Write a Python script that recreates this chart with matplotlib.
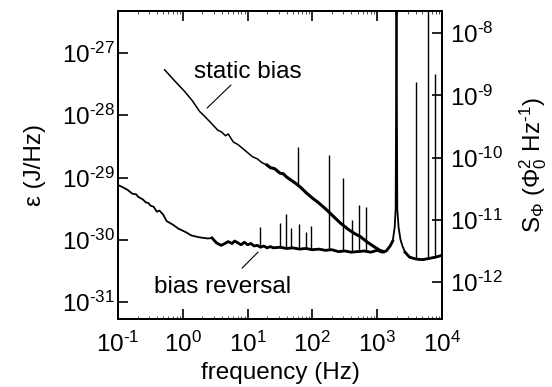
import numpy as np
import matplotlib
matplotlib.use("Agg")
import matplotlib.pyplot as plt
from matplotlib.ticker import LogLocator, NullLocator, FuncFormatter

plt.rcParams['font.family'] = ['Liberation Sans', 'DejaVu Sans']
plt.rcParams['mathtext.fontset'] = 'custom'
plt.rcParams['mathtext.rm'] = 'Liberation Sans'
plt.rcParams['mathtext.it'] = 'Liberation Sans:italic'
plt.rcParams['mathtext.bf'] = 'Liberation Sans:bold'
plt.rcParams['axes.unicode_minus'] = False

FS = 17.5

# curves, as log10(frequency / Hz) and log10(eps / (J/Hz))
static_logf = [-0.28, -0.15, 0.03, 0.15, 0.26, 0.34, 0.45, 0.54, 0.60, 0.66, 0.70,
               0.78, 0.85, 0.92, 1.00, 1.08, 1.15, 1.22, 1.30, 1.35, 1.42, 1.50,
               1.55, 1.60, 1.68, 1.75, 1.82, 1.91, 2.00, 2.10, 2.22, 2.30, 2.43,
               2.55, 2.65, 2.74, 2.85, 2.95, 3.04, 3.10]
static_logeps = [-27.27, -27.42, -27.62, -27.77, -27.94, -28.02, -28.14, -28.24, -28.27,
                 -28.33, -28.30, -28.43, -28.47, -28.53, -28.60, -28.67, -28.70, -28.76,
                 -28.80, -28.84, -28.86, -28.93, -28.94, -28.99, -29.05, -29.10, -29.16,
                 -29.25, -29.33, -29.41, -29.52, -29.60, -29.73, -29.83, -29.90, -29.95,
                 -30.04, -30.11, -30.17, -30.19]

rev_logf = [-1.00, -0.92, -0.85, -0.78, -0.72, -0.69, -0.62, -0.57, -0.53, -0.50,
            -0.45, -0.40, -0.36, -0.30, -0.25, -0.15, -0.07, 0.05, 0.13, 0.25,
            0.39, 0.45, 0.52, 0.59, 0.65, 0.70, 0.76, 0.80, 0.85, 0.90, 0.95,
            1.00, 1.05, 1.10, 1.15, 1.20, 1.25, 1.30, 1.35, 1.40, 1.50, 1.60,
            1.70, 1.80, 1.90, 2.00, 2.10, 2.20, 2.30, 2.40, 2.50, 2.60, 2.70,
            2.80, 2.90, 3.00, 3.08, 3.14, 3.20, 3.24, 3.27, 3.285, 3.298, 3.31,
            3.33, 3.36, 3.39, 3.43, 3.50, 3.60, 3.70, 3.80, 3.90, 4.00]
rev_logeps = [-29.12, -29.16, -29.20, -29.26, -29.27, -29.31, -29.35, -29.40, -29.41,
              -29.45, -29.47, -29.55, -29.53, -29.60, -29.70, -29.76, -29.82, -29.88,
              -29.93, -29.96, -29.98, -29.97, -30.05, -30.09, -30.06, -30.03, -30.06,
              -30.02, -30.05, -30.08, -30.04, -30.08, -30.06, -30.10, -30.09, -30.12,
              -30.10, -30.13, -30.11, -30.13, -30.12, -30.14, -30.13, -30.15, -30.14,
              -30.16, -30.15, -30.17, -30.16, -30.19, -30.18, -30.20, -30.19, -30.18,
              -30.20, -30.17, -30.20, -30.18, -30.10, -30.02, -29.80, -29.50, -26.20,
              -29.50, -29.80, -30.00, -30.10, -30.20, -30.28, -30.31, -30.32, -30.30,
              -30.28, -30.25]

# narrow pickup lines: log10 f and log10 of the line top
rev_spike_logf = [1.191, 1.50, 1.588, 1.677, 1.793, 1.894, 1.974, 2.256, 2.468,
                  2.611, 2.724, 2.82, 3.594, 3.779, 3.892]
rev_spike_top = [-29.79, -29.73, -29.58, -29.81, -29.75, -29.88, -29.78, -28.64,
                 -29.01, -29.69, -29.44, -29.48, -27.46, -26.20, -27.34]
static_spike_logf = [1.782]
static_spike_top = [-28.51]


def pow10(v, pos):
    e = int(round(np.log10(v)))
    if e < 0:
        return r'$10^{\text{-}%d}$' % (-e)
    return r'$10^{%d}$' % e


fig = plt.figure(figsize=(5.52, 3.87), dpi=100)
ax = fig.add_axes([0.2138, 0.1757, 0.5869, 0.7959])

sf = np.array(static_logf)
se = np.array(static_logeps)
rf = np.array(rev_logf)
re_ = np.array(rev_logeps)

ax.plot(10**sf, 10**se, color='black', lw=1.1)
ax.plot(10**rf, 10**re_, color='black', lw=1.3)
# the noisy parts of both traces look thicker
m = sf >= 1.3
ax.plot(10**sf[m], 10**se[m], color='black', lw=2.2)
m = (rf >= 0.4) & (rf <= 3.24)
ax.plot(10**rf[m], 10**re_[m], color='black', lw=2.0)
m = rf >= 3.43
ax.plot(10**rf[m], 10**re_[m], color='black', lw=2.0)

base = np.interp(rev_spike_logf, rev_logf, rev_logeps)
ax.vlines(10**np.array(rev_spike_logf), 10**base, 10**np.array(rev_spike_top),
          color='black', lw=1.0)
base = np.interp(static_spike_logf, static_logf, static_logeps)
ax.vlines(10**np.array(static_spike_logf), 10**base, 10**np.array(static_spike_top),
          color='black', lw=1.0)

ax.set_xscale('log')
ax.set_yscale('log')
ax.set_xlim(1e-1, 1e4)
ax.set_ylim(10**-31.273, 10**-26.325)
ax.xaxis.set_major_locator(LogLocator(base=10, numticks=10))
ax.xaxis.set_minor_locator(LogLocator(base=10, subs=np.arange(2, 10), numticks=10))
ax.yaxis.set_major_locator(LogLocator(base=10, numticks=10))
ax.yaxis.set_minor_locator(NullLocator())
ax.xaxis.set_major_formatter(FuncFormatter(pow10))
ax.yaxis.set_major_formatter(FuncFormatter(pow10))

ax.tick_params(axis='both', which='major', direction='in', length=7, width=1.2,
               labelsize=FS)
ax.tick_params(axis='x', which='major', pad=9.5)
ax.tick_params(axis='y', which='major', pad=2)
ax.tick_params(axis='x', which='both', top=True, bottom=True)
ax.tick_params(axis='x', which='minor', direction='in', length=2, width=0.5)
ax.tick_params(axis='y', which='both', left=True, right=False)
for s in ax.spines.values():
    s.set_linewidth(1.4)

ax.set_xlabel('frequency (Hz)', fontsize=FS, labelpad=3)
ax.set_ylabel('ε (J/Hz)', fontsize=FS, labelpad=12)

ax2 = ax.twinx()
ax2.set_yscale('log')
ax2.set_ylim(10**-12.593, 10**-7.645)
ax2.yaxis.set_major_locator(LogLocator(base=10, numticks=10))
ax2.yaxis.set_minor_locator(NullLocator())
ax2.yaxis.set_major_formatter(FuncFormatter(pow10))
ax2.tick_params(axis='y', which='major', direction='in', length=7, width=1.2,
                labelsize=FS, pad=6)
ax2.set_ylabel(r'S$_\Phi$ ($\Phi_0^2$ Hz$^{\text{-}1}$)', fontsize=FS, labelpad=10)
for s in ax2.spines.values():
    s.set_linewidth(1.4)

ax.text(10**0.998, 10**-27.305, 'static bias', fontsize=FS, ha='center', va='center')
ax.annotate('', xy=(10**0.343, 10**-27.916), xytext=(10**0.775, 10**-27.482),
            arrowprops=dict(arrowstyle='-', lw=0.8, color='black'))
ax.text(10**0.62, 10**-30.762, 'bias reversal', fontsize=FS, ha='center', va='center')
ax.annotate('', xy=(10**1.191, 10**-30.167), xytext=(10**0.883, 10**-30.489),
            arrowprops=dict(arrowstyle='-', lw=0.8, color='black'))

fig.savefig('out.png', dpi=100)
